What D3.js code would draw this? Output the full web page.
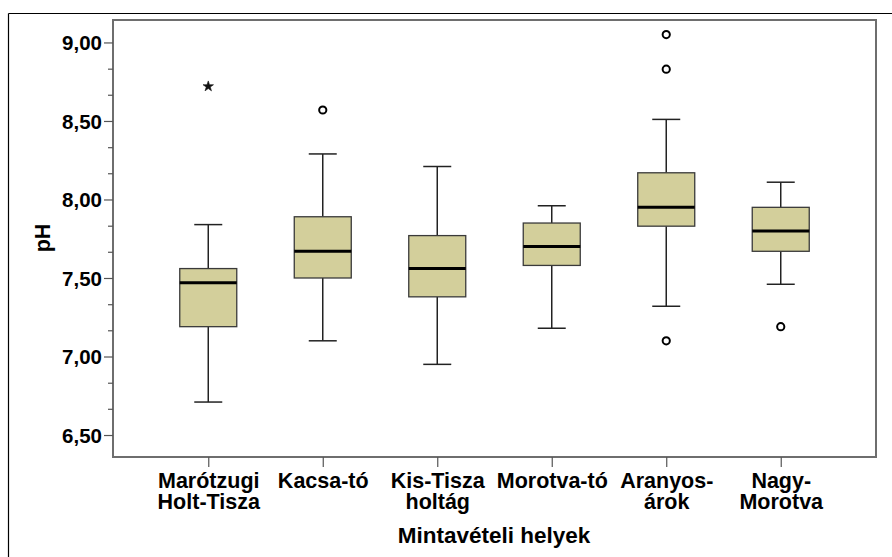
<!DOCTYPE html>
<html>
<head>
<meta charset="utf-8">
<script src="https://cdn.jsdelivr.net/npm/d3@7"></script>
<style>
  html, body { margin: 0; padding: 0; background: #fff; }
  svg { display: block; font-family: "Liberation Sans", Arial, sans-serif; }
</style>
</head>
<body>
<svg id="chart" width="892" height="557"></svg>
<script>
// Sampling sites (two-line labels)
const categories = [
  ["Marótzugi", "Holt-Tisza"],
  ["Kacsa-tó"],
  ["Kis-Tisza", "holtág"],
  ["Morotva-tó"],
  ["Aranyos-", "árok"],
  ["Nagy-", "Morotva"]
];
// Box statistics per site: lower whisker, Q1, median, Q3, upper whisker
const whiskerLow  = [6.71, 7.10, 6.95, 7.18, 7.32, 7.46];
const q1          = [7.19, 7.50, 7.38, 7.58, 7.83, 7.67];
const median      = [7.47, 7.67, 7.56, 7.70, 7.95, 7.80];
const q3          = [7.56, 7.89, 7.77, 7.85, 8.17, 7.95];
const whiskerHigh = [7.84, 8.29, 8.21, 7.96, 8.51, 8.11];
// Outliers (circle) and extreme values (star): [site index, value]
const outliers = [[1, 8.57], [4, 9.05], [4, 8.83], [4, 7.10], [5, 7.19]];
const extremes = [[0, 8.72]];
// Axis ticks
const yTicks = [6.5, 7.0, 7.5, 8.0, 8.5, 9.0];
const yMinorTicks = [6.667, 6.833, 7.167, 7.333, 7.667, 7.833, 8.167, 8.333, 8.667, 8.833];
const yTitle = "pH";
const xTitle = "Mintavételi helyek";

const svg = d3.select("#chart");
const plot = { left: 113, right: 876, top: 20, bottom: 457 };

const y = d3.scaleLinear().domain([6.36, 9.143]).range([plot.bottom, plot.top]);
const x = d3.scalePoint()
  .domain(d3.range(categories.length))
  .range([plot.left, plot.right])
  .padding(0.832);
const cx = i => x(i);
const boxW = 57, capW = 28;

// Outer frame (top and left edges)
svg.append("line").attr("x1", 8.5).attr("x2", 892).attr("y1", 13.5).attr("y2", 13.5)
  .attr("stroke", "#000").attr("stroke-width", 1.2);
svg.append("line").attr("x1", 8.5).attr("x2", 8.5).attr("y1", 13.5).attr("y2", 557)
  .attr("stroke", "#000").attr("stroke-width", 1.2);

// Plot frame
svg.append("rect")
  .attr("x", plot.left).attr("y", plot.top)
  .attr("width", plot.right - plot.left).attr("height", plot.bottom - plot.top)
  .attr("fill", "#fff").attr("stroke", "#6e6e6e").attr("stroke-width", 2);

// Y axis
const yAxis = d3.axisLeft(y).tickValues(yTicks).tickSize(9).tickPadding(2)
  .tickFormat(d => d3.format(".2f")(d).replace(".", ","));
const gy = svg.append("g").attr("transform", `translate(${plot.left},0)`).call(yAxis);
gy.select(".domain").remove();
gy.selectAll(".tick line").attr("stroke", "#555").attr("stroke-width", 1.2);
gy.selectAll(".tick text").attr("fill", "#000").attr("font-size", 20.5)
  .attr("font-weight", "bold").attr("dy", "0.36em");
const yMinor = d3.axisLeft(y).tickValues(yMinorTicks).tickSize(5).tickFormat("");
const gym = svg.append("g").attr("transform", `translate(${plot.left},0)`).call(yMinor);
gym.select(".domain").remove();
gym.selectAll(".tick line").attr("stroke", "#555").attr("stroke-width", 1.2);

// X axis
const xAxis = d3.axisBottom(x).tickSize(10).tickFormat("");
const gx = svg.append("g").attr("transform", `translate(0,${plot.bottom})`).call(xAxis);
gx.select(".domain").remove();
gx.selectAll(".tick line").attr("stroke", "#555").attr("stroke-width", 1.2);
gx.selectAll(".tick").each(function(d) {
  const t = d3.select(this).append("text")
    .attr("text-anchor", "middle").attr("font-size", 21.5).attr("font-weight", "bold")
    .attr("fill", "#000");
  categories[d].forEach((line, k) => {
    t.append("tspan").attr("x", 0).attr("y", 30.5 + k * 21).text(line);
  });
});

// Axis titles
svg.append("text")
  .attr("transform", `translate(50,238) rotate(-90)`)
  .attr("text-anchor", "middle").attr("font-size", 21.5).attr("font-weight", "bold")
  .text(yTitle);
svg.append("text")
  .attr("x", 494).attr("y", 543)
  .attr("text-anchor", "middle").attr("font-size", 22.5).attr("font-weight", "bold")
  .text(xTitle);

// Boxes
const g = svg.append("g");
categories.forEach((c, i) => {
  const xc = cx(i);
  // whisker stems
  g.append("line").attr("x1", xc).attr("x2", xc)
    .attr("y1", y(whiskerHigh[i])).attr("y2", y(q3[i]))
    .attr("stroke", "#222").attr("stroke-width", 1.5);
  g.append("line").attr("x1", xc).attr("x2", xc)
    .attr("y1", y(q1[i])).attr("y2", y(whiskerLow[i]))
    .attr("stroke", "#222").attr("stroke-width", 1.5);
  // caps
  [whiskerHigh[i], whiskerLow[i]].forEach(v => {
    g.append("line").attr("x1", xc - capW / 2).attr("x2", xc + capW / 2)
      .attr("y1", y(v)).attr("y2", y(v))
      .attr("stroke", "#222").attr("stroke-width", 1.5);
  });
  // box
  g.append("rect")
    .attr("x", xc - boxW / 2).attr("width", boxW)
    .attr("y", y(q3[i])).attr("height", y(q1[i]) - y(q3[i]))
    .attr("fill", "#d3cf9b").attr("stroke", "#3a3a3a").attr("stroke-width", 1.3);
  // median
  g.append("line").attr("x1", xc - boxW / 2).attr("x2", xc + boxW / 2)
    .attr("y1", y(median[i])).attr("y2", y(median[i]))
    .attr("stroke", "#000").attr("stroke-width", 3);
});

// Outliers
g.selectAll("circle.outlier").data(outliers).join("circle")
  .attr("class", "outlier")
  .attr("cx", d => cx(d[0])).attr("cy", d => y(d[1])).attr("r", 3.6)
  .attr("fill", "#fff").attr("stroke", "#000").attr("stroke-width", 2);

// Extreme values
g.selectAll("path.extreme").data(extremes).join("path")
  .attr("class", "extreme")
  .attr("transform", d => `translate(${cx(d[0])},${y(d[1])})`)
  .attr("d", d3.symbol(d3.symbolStar, 34))
  .attr("fill", "#111").attr("stroke", "#111").attr("stroke-width", 0.6);
</script>
</body>
</html>
